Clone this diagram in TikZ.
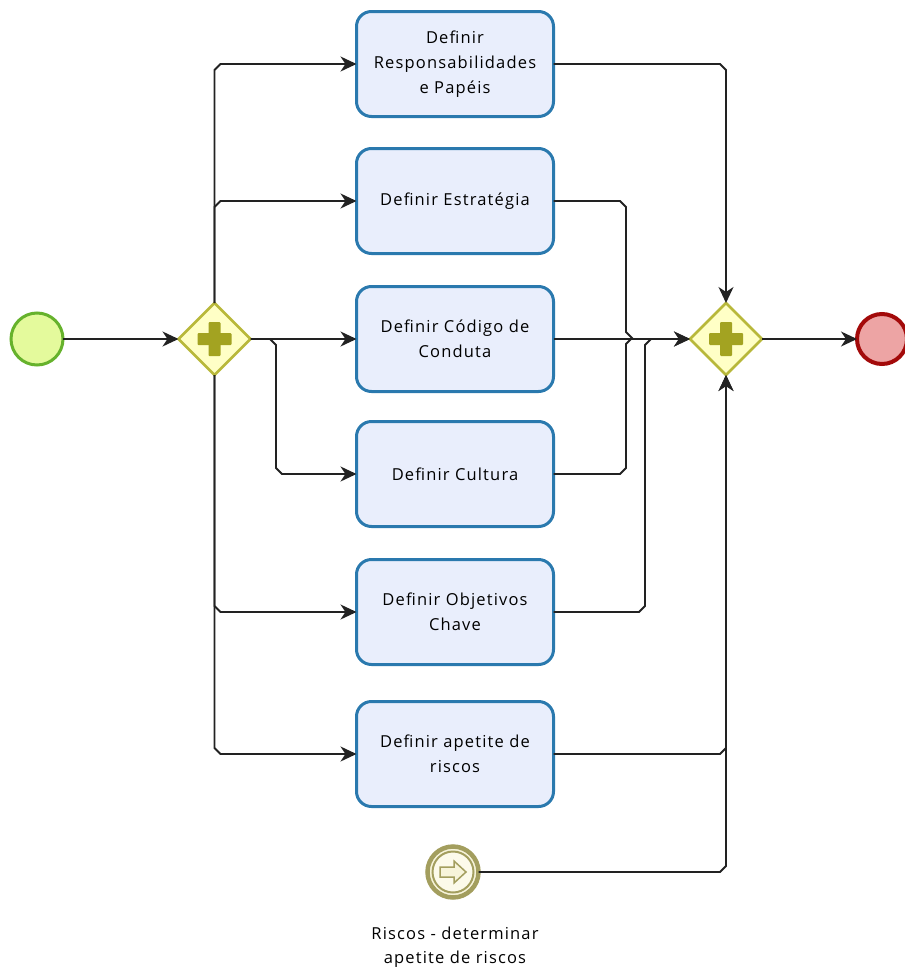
\documentclass[tikz,border=0pt]{standalone}
\usepackage{fontspec}
\setmainfont{Open Sans}[LetterSpace=7]
\usetikzlibrary{shapes.geometric,arrows.meta,calc}

\definecolor{taskfill}{HTML}{E9EEFC}
\definecolor{taskline}{HTML}{2A79AE}
\definecolor{gwfill}{HTML}{FFFFC6}
\definecolor{gwline}{HTML}{B8B83A}
\definecolor{gwplus}{HTML}{A3A321}
\definecolor{startfill}{HTML}{E4FA9C}
\definecolor{startline}{HTML}{66B22C}
\definecolor{endfill}{HTML}{EDA4A4}
\definecolor{endline}{HTML}{A30A0A}
\definecolor{evline}{HTML}{A39E5E}
\definecolor{evfill}{HTML}{F7F4DA}
\definecolor{evinner}{HTML}{FCFAEA}
\definecolor{flowline}{HTML}{222222}

\begin{document}
\begin{tikzpicture}[x=1pt,y=-1pt,
  task/.style={draw=taskline, fill=taskfill, line width=3pt, rounded corners=15pt,
    minimum width=197pt, minimum height=105pt, align=center, inner sep=2pt,
    font=\fontsize{16.5}{25}\selectfont, outer sep=0pt},
  gateway/.style={diamond, aspect=1, draw=gwline, fill=gwfill, line width=2.5pt,
    minimum width=72pt, minimum height=72pt, inner sep=0pt, outer sep=0pt},
  startev/.style={circle, draw=startline, fill=startfill, line width=3pt,
    minimum size=52pt, inner sep=0pt, outer sep=0pt},
  endev/.style={circle, draw=endline, fill=endfill, line width=4pt,
    minimum size=50pt, inner sep=0pt, outer sep=0pt},
  linkev/.style={circle, draw=evline, fill=evfill, line width=4.5pt,
    minimum size=51pt, inner sep=0pt, outer sep=0pt},
  link/.style={draw=flowline, line width=1.8pt},
  flow/.style={link, -{Stealth[length=16pt,width=15pt,inset=5pt]}},
  plusbar/.style={fill=gwplus, rounded corners=1pt},
  evlabel/.style={align=center, font=\fontsize{16.5}{24}\selectfont, inner sep=0pt}
]
\useasboundingbox (0,0) rectangle (905,972);

% events and gateways
\node[startev] (start) at (37,339) {};
\node[gateway] (g1) at (214.5,339) {};
\node[gateway] (g2) at (726,339) {};
\node[endev] (end) at (882,339) {};

% tasks
\node[task] (b1) at (455,64)  {Definir\\Responsabilidades\\e Papéis};
\node[task] (b2) at (455,201) {Definir Estratégia};
\node[task] (b3) at (455,339) {Definir Código de\\Conduta};
\node[task] (b4) at (455,474) {Definir Cultura};
\node[task] (b5) at (455,612) {Definir Objetivos\\Chave};
\node[task] (b6) at (455,754) {Definir apetite de\\riscos};

% link event with its arrow symbol
\node[linkev] (ev) at (453,872) {};
\draw[evline, line width=2pt, fill=evinner] (ev) circle (20.5);
\draw[evline, line width=1.5pt, fill=evfill, line join=miter]
  ($(ev)+(-13,-5)$) -- ($(ev)+(1,-5)$) -- ($(ev)+(1,-11)$) -- ($(ev)+(13,0)$)
  -- ($(ev)+(1,11)$) -- ($(ev)+(1,5)$) -- ($(ev)+(-13,5)$) -- cycle;
\node[evlabel, anchor=north] (evl) at (455,927) {Riscos - determinar\\apetite de riscos};

% plus markers of the parallel gateways
\foreach \g in {g1,g2} {
  \fill[plusbar] ($(\g)+(-17,-6)$) rectangle ($(\g)+(17,6)$);
  \fill[plusbar] ($(\g)+(-6,-17)$) rectangle ($(\g)+(6,17)$);
}

% column positions of the vertical runs
\coordinate (cA) at (276,339);
\coordinate (cB) at (626,339);
\coordinate (cC) at (645,339);

% split
\draw[flow] (start.east) -- (g1.west);
\draw[flow] (g1.north) -- ($(g1.north|-b1.west)+(0,6)$) -- ($(g1.north|-b1.west)+(6,0)$) -- (b1.west);
\draw[flow] (g1.north) -- ($(g1.north|-b2.west)+(0,6)$) -- ($(g1.north|-b2.west)+(6,0)$) -- (b2.west);
\draw[flow] (g1.east) -- (b3.west);
\draw[flow] (g1.east) -- ($(cA)+(-6,0)$) -- ($(cA)+(0,6)$) -- ($(cA|-b4.west)+(0,-6)$)
  -- ($(cA|-b4.west)+(6,0)$) -- (b4.west);
\draw[flow] (g1.south) -- ($(g1.south|-b5.west)+(0,-6)$) -- ($(g1.south|-b5.west)+(6,0)$) -- (b5.west);
\draw[flow] (g1.south) -- ($(g1.south|-b6.west)+(0,-6)$) -- ($(g1.south|-b6.west)+(6,0)$) -- (b6.west);

% join
\draw[flow] (b1.east) -- ($(g2.north|-b1.east)+(-6,0)$) -- ($(g2.north|-b1.east)+(0,6)$) -- (g2.north);
\draw[flow] (b3.east) -- (g2.west);
\draw[link] (b2.east) -- ($(cB|-b2.east)+(-6,0)$) -- ($(cB|-b2.east)+(0,6)$)
  -- ($(cB)+(0,-7)$) -- ($(cB)+(6,-1)$) -- ($(cB)+(0,5)$)
  -- ($(cB|-b4.east)+(0,-6)$) -- ($(cB|-b4.east)+(-6,0)$) -- (b4.east);
\draw[flow] (b5.east) -- ($(cC|-b5.east)+(-6,0)$) -- ($(cC|-b5.east)+(0,-6)$)
  -- ($(cC)+(0,6)$) -- ($(cC)+(6,0)$) -- (g2.west);
\draw[flow] (b6.east) -- ($(g2.south|-b6.east)+(-6,0)$) -- ($(g2.south|-b6.east)+(0,-6)$) -- (g2.south);
\draw[flow] (ev.east) -- ($(g2.south|-ev.east)+(-6,0)$) -- ($(g2.south|-ev.east)+(0,-6)$) -- (g2.south);
\draw[flow] (g2.east) -- (end.west);
\end{tikzpicture}
\end{document}
